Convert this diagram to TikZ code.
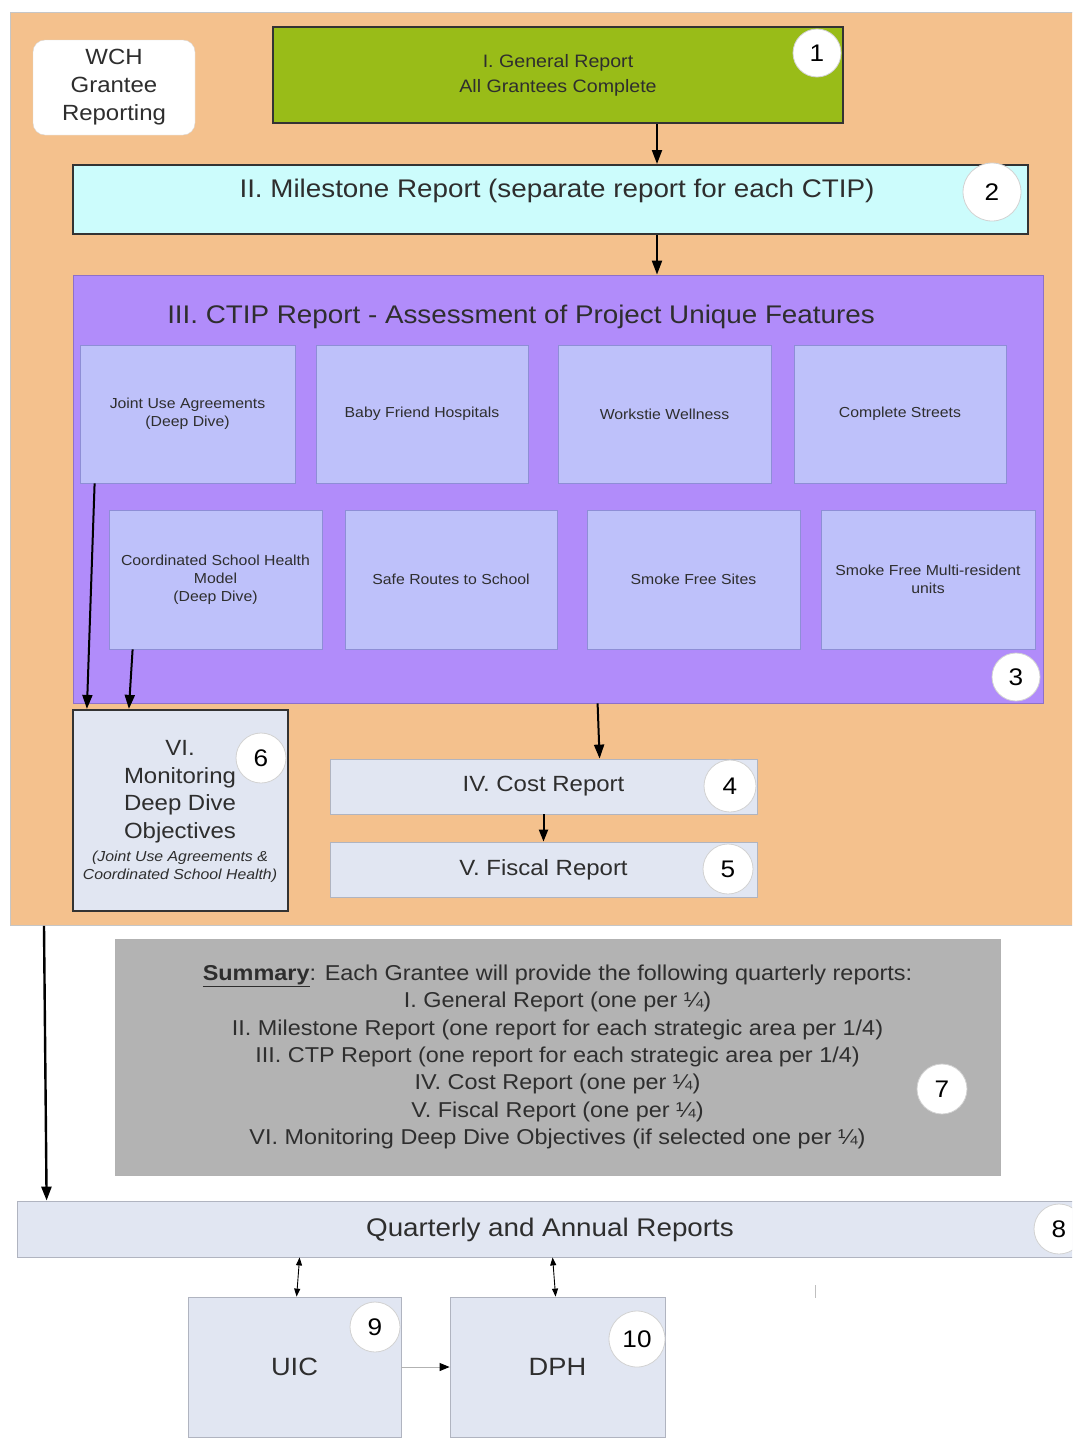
\documentclass[tikz,border=0pt]{standalone}
\usepackage{fontspec}
\setmainfont[FakeStretch=1.09]{Liberation Sans}
\usetikzlibrary{arrows.meta,calc}
\definecolor{orangebg}{HTML}{F4C18D}
\definecolor{greenbox}{HTML}{99BC18}
\definecolor{cyanbox}{HTML}{CCFCFC}
\definecolor{purplebox}{HTML}{B18CFA}
\definecolor{innerbox}{HTML}{BEC1FA}
\definecolor{innerline}{HTML}{8E8ED6}
\definecolor{lightbox}{HTML}{E1E6F2}
\definecolor{lightline}{HTML}{B0B4C0}
\definecolor{graybox}{HTML}{B3B3B3}
\definecolor{txt}{HTML}{2E2E2E}
\newcommand{\fsz}[2]{\fontsize{#1}{#2}\selectfont}
\begin{document}
\begin{tikzpicture}[x=1pt,y=-1pt,
  every node/.style={text=txt},
  plainbox/.style={rectangle, inner sep=0pt, align=center},
  innerbx/.style={plainbox, fill=innerbox, draw=innerline, line width=0.8pt,
     minimum width=213pt, font=\fsz{14.5}{18}},
  lightbx/.style={plainbox, fill=lightbox, draw=lightline, line width=0.8pt},
  badge/.style={circle, fill=white, draw=gray!35, line width=0.8pt, inner sep=0pt,
     font=\fsz{24}{24}, text=black},
  arr/.style={line width=2pt, draw=black, -{Triangle[length=14pt,width=10pt]}},
  thinarr/.style={line width=0.9pt, draw=black, {Triangle[length=8pt,width=6pt]}-{Triangle[length=8pt,width=6pt]}}
]
\clip (0,0) rectangle (1072,1440);
\fill[white] (0,0) rectangle (1072,1440);

% orange container
\node[plainbox, fill=orangebg, draw=gray!45, line width=0.8pt,
  minimum width=1090pt, minimum height=913pt, anchor=north west] (orange) at (10,12) {};

% WCH
\node[plainbox, fill=white, draw=gray!30, rounded corners=12pt,
  minimum width=162pt, minimum height=95pt, font=\fsz{22}{28}] (wch) at (114,87.5)
  {WCH\\Grantee\\Reporting};

% I. General report
\node[plainbox, fill=greenbox, draw=black!80, line width=2pt,
  minimum width=570pt, minimum height=96pt, font=\fsz{18}{25}] (gen) at (558,75)
  {I. General Report\\All Grantees Complete};
\node[badge, minimum size=48pt] (b1) at (817,53) {1};

% II. Milestone
\node[plainbox, fill=cyanbox, draw=black!80, line width=2pt,
  minimum width=955pt, minimum height=69pt] (mil) at (550.5,199.5) {};
\node[plainbox, font=\fsz{25.5}{28}] (milt) at (557,191)
  {II. Milestone Report (separate report for each CTIP)};
\node[badge, minimum size=58pt] (b2) at (992,192) {2};

% III. CTIP
\node[plainbox, fill=purplebox, draw=purplebox!80!black, line width=0.8pt,
  minimum width=970pt, minimum height=428pt] (ctip) at (558,489) {};
\node[plainbox, font=\fsz{25.5}{28}] (ctipt) at (521,317)
  {III. CTIP Report - Assessment of Project Unique Features};
\node[badge, minimum size=48pt] (b3) at (1016,677) {3};

\node[innerbx, minimum height=138pt, minimum width=215pt] (jua) at (187.5,414)
  {Joint Use Agreements\\(Deep Dive)};
\node[innerbx, minimum height=138pt, minimum width=212pt] (bfh) at (422,414)
  {Baby Friend Hospitals};
\node[innerbx, minimum height=138pt] (ww) at (664.5,414)
  {Workstie Wellness};
\node[innerbx, minimum height=138pt, minimum width=212pt] (cs) at (900,414)
  {Complete Streets};

\node[innerbx, minimum height=139pt] (csh) at (215.5,579.5)
  {Coordinated School Health\\Model\\(Deep Dive)};
\node[innerbx, minimum height=139pt, minimum width=212pt] (srs) at (451,579.5)
  {Safe Routes to School};
\node[innerbx, minimum height=139pt] (sfs) at (693.5,579.5)
  {Smoke Free Sites};
\node[innerbx, minimum height=139pt, minimum width=214pt] (sfm) at (928,579.5)
  {Smoke Free Multi-resident\\units};

% VI
\node[plainbox, fill=lightbox, draw=black!80, line width=2.2pt,
  minimum width=215pt, minimum height=201pt] (vi) at (180.5,810.5) {};
\node[plainbox, font=\fsz{22}{27.5}] (vit) at (180,791.5)
  {VI.\\Monitoring\\Deep Dive\\Objectives};
\node[plainbox, font=\fsz{14.5}{18}\itshape] (vis) at (180,867)
  {(Joint Use Agreements \&\\Coordinated School Health)};
\node[badge, minimum size=50pt] (b6) at (261,758) {6};

% IV, V
\node[lightbx, minimum width=427pt, minimum height=55pt, font=\fsz{22}{24}] (cost) at (543.5,786.5)
  {IV. Cost Report};
\node[badge, minimum size=52pt] (b4) at (730,786) {4};
\node[lightbx, minimum width=427pt, minimum height=55pt, font=\fsz{22}{24}] (fisc) at (543.5,869.5)
  {V. Fiscal Report};
\node[badge, minimum size=50pt] (b5) at (728,869) {5};

% Summary
\node[plainbox, fill=graybox, draw=gray!60, line width=0.6pt,
  minimum width=885pt, minimum height=236pt, font=\fsz{21.5}{27.3}] (sum) at (557.5,1057)
  {\underline{\textbf{Summary}}: Each Grantee will provide the following quarterly reports:\\
   I. General Report (one per ¼)\\
   II. Milestone Report (one report for each strategic area per 1/4)\\
   III. CTP Report (one report for each strategic area per 1/4)\\
   IV. Cost Report (one per ¼)\\
   V. Fiscal Report (one per ¼)\\
   VI. Monitoring Deep Dive Objectives (if selected one per ¼)};
\node[badge, minimum size=50pt] (b7) at (942,1089) {7};

% Quarterly
\node[lightbx, minimum width=1073pt, minimum height=56pt] (qr) at (553.5,1229) {};
\node[plainbox, font=\fsz{25.5}{28}] (qrt) at (550,1230) {Quarterly and Annual Reports};
\node[badge, minimum size=50pt] (b8) at (1059,1229) {8};

% UIC, DPH
\node[lightbx, minimum width=213pt, minimum height=140pt, font=\fsz{25}{28}] (uic) at (294.5,1367) {UIC};
\node[badge, minimum width=48pt, minimum height=50pt] (b9) at (375,1327) {9};
\node[lightbx, minimum width=215pt, minimum height=140pt, font=\fsz{25}{28}] (dph) at (557.5,1367) {DPH};
\node[badge, minimum size=56pt] (b10) at (637,1339) {10};

% connectors
\coordinate (x657) at (657,0);
\draw[arr] (gen.south -| x657) -- (mil.north -| x657);
\draw[arr] (mil.south -| x657) -- (ctip.north -| x657);
\draw[arr] ([xshift=15pt]jua.south west) -- ([xshift=15pt]vi.north west);
\draw[arr] ([xshift=24pt]csh.south west) -- ([xshift=57pt]vi.north west);
\draw[arr] ([xshift=525pt]ctip.south west) -- ([xshift=270pt]cost.north west);
\draw[arr, -{Triangle[length=12pt,width=9pt]}] (cost.south) -- (fisc.north);
\draw[arr, line width=2.4pt] ([xshift=34pt]orange.south west) -- ([xshift=30pt]qr.north west);
\draw[thinarr] ([xshift=283pt]qr.south west) -- ([xshift=109pt]uic.north west);
\draw[thinarr] ([xshift=536pt]qr.south west) -- ([xshift=106pt]dph.north west);
\draw[line width=1pt, draw=gray!60, -{Triangle[length=10pt,width=8pt,color=black]}] (uic.east) -- (dph.west);
\draw[gray!50, line width=1pt] (815,1285) -- (815,1298);
\end{tikzpicture}
\end{document}
